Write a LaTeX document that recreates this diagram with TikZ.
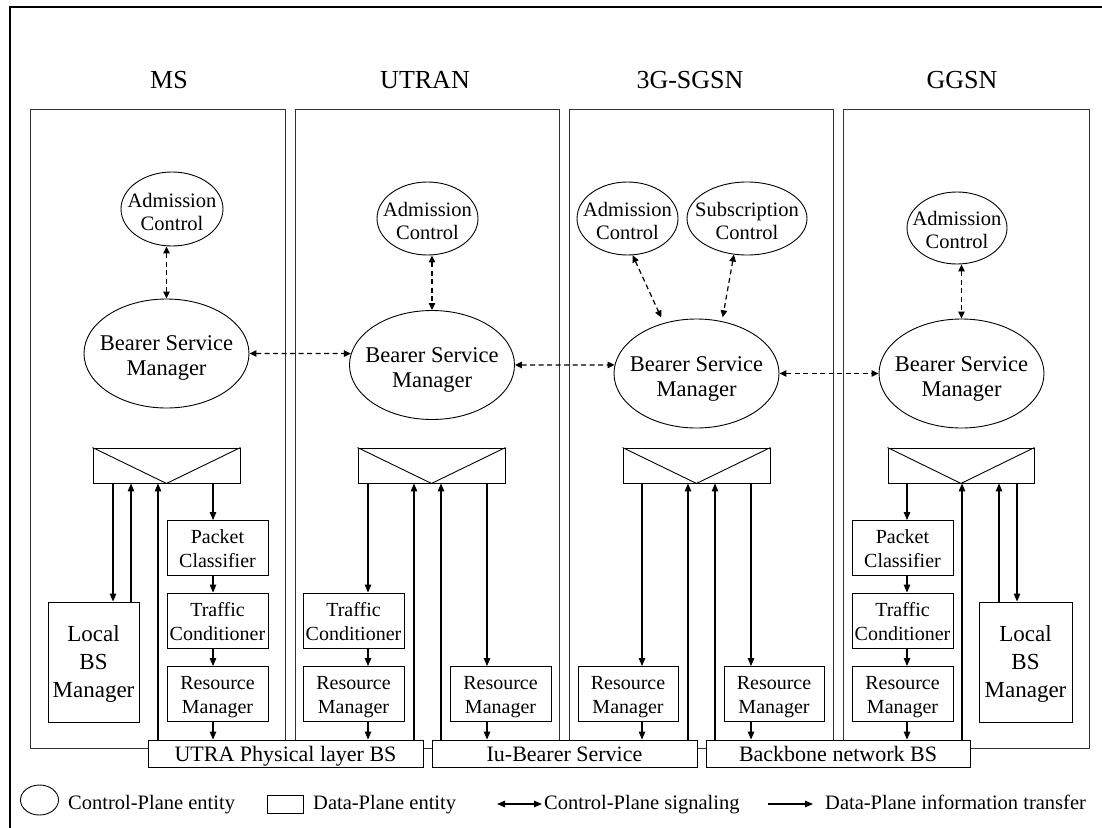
\documentclass[tikz,border=0pt]{standalone}
\usepackage{fontspec}
\setmainfont{Liberation Serif}
\usetikzlibrary{arrows.meta,shapes.geometric}

% centred multi-line label whose last baseline sits #1 pt below the node centre
\newcommand\stack[2]{\makebox[0pt]{\raisebox{-#1pt}[0pt][0pt]{\begin{tabular}[b]{@{}c@{}}#2\end{tabular}}}}

\begin{document}
\begin{tikzpicture}[x=1pt,y=-1pt,
  ctl/.style={draw, ellipse, line width=0.9pt, inner sep=0pt, font=\fontsize{20.5}{23}\selectfont},
  bsm/.style={ctl, minimum width=165pt, minimum height=109pt, font=\fontsize{22.5}{25}\selectfont},
  dbox/.style={draw, rectangle, line width=0.9pt, inner sep=0pt, minimum width=101pt, minimum height=55pt, font=\fontsize{20}{24}\selectfont},
  lbm/.style={dbox, minimum width=91pt, minimum height=120pt, font=\fontsize{23}{28}\selectfont},
  sw/.style={draw, rectangle, line width=0.9pt, inner sep=0pt, minimum width=147pt, minimum height=35pt},
  col/.style={draw=black!80, rectangle, line width=0.9pt, inner sep=0pt, minimum height=639pt},
  bar/.style={draw, fill=white, rectangle, line width=0.9pt, inner sep=0pt, minimum height=27pt, text height=16pt, text depth=0pt, font=\fontsize{22}{26}\selectfont},
  title/.style={anchor=base, inner sep=0pt, font=\fontsize{26}{30}\selectfont},
  lgtext/.style={anchor=base west, inner sep=0pt, font=\fontsize{20.5}{24}\selectfont},
  cp/.style={line width=1.2pt, dash pattern=on 5pt off 3.5pt, >={Triangle[length=7pt,width=6.5pt]}, <->},
  dp/.style={line width=1.1pt, >={Triangle[length=8pt,width=6.5pt]}, ->},
  vee/.style={line width=0.9pt},
]
\useasboundingbox (0,0) rectangle (1102,827);
\clip (0,0) rectangle (1102,827);

% outer frame
\draw[line width=2.2pt] (10,835) -- (10,7) -- (1110,7);

% network element columns
\node[col, minimum width=255pt] (mscol) at (157.5,428.5) {};
\node[col, minimum width=264pt] (utcol) at (427,428.5) {};
\node[col, minimum width=264pt] (sgcol) at (701,428.5) {};
\node[col, minimum width=246pt] (ggcol) at (966,428.5) {};

\node[title] (mstitle) at (169,88) {MS};
\node[title] (uttitle) at (425,88) {UTRAN};
\node[title] (sgtitle) at (690,88) {3G-SGSN};
\node[title] (ggtitle) at (962,88) {GGSN};

% bearer services along the bottom
\node[bar, minimum width=275pt] (bar1) at (285.5,753.5) {UTRA Physical layer BS};
\node[bar, minimum width=265pt] (bar2) at (564.5,753.5) {Iu-Bearer Service};
\node[bar, minimum width=264pt] (bar3) at (838,753.5) {Backbone network BS};

% ---------- MS ----------
\node[ctl, minimum width=102pt, minimum height=74pt] (msac) at (172,209) {\stack{21}{Admission\\Control}};
\node[bsm] (msbsm) at (166.5,353.5) {\stack{22}{Bearer Service\\Manager}};
\node[sw] (mssw) at (166.5,465.5) {};
\draw[vee] (mssw.north west) -- (mssw.south) -- (mssw.north east);
\node[lbm] (mslbm) at (93.5,662) {\stack{35}{Local\\BS\\Manager}};
\node[dbox] (mspc) at (217.5,548) {\stack{19}{Packet\\Classifier}};
\node[dbox] (mstc) at (217.5,620.5) {\stack{20}{Traffic\\Conditioner}};
\node[dbox] (msrm) at (217.5,694) {\stack{19.5}{Resource\\Manager}};

% ---------- UTRAN ----------
\node[ctl, minimum width=101pt, minimum height=73pt] (utac) at (427.5,218.5) {\stack{20.5}{Admission\\Control}};
\node[bsm] (utbsm) at (432,365) {\stack{22.5}{Bearer Service\\Manager}};
\node[sw] (utsw) at (431.5,465.5) {};
\draw[vee] (utsw.north west) -- (utsw.south) -- (utsw.north east);
\node[dbox] (uttc) at (353.5,620.5) {\stack{20}{Traffic\\Conditioner}};
\node[dbox] (utrma) at (353.5,694) {\stack{19.5}{Resource\\Manager}};
\node[dbox] (utrmb) at (500.5,694) {\stack{19.5}{Resource\\Manager}};

% ---------- 3G-SGSN ----------
\node[ctl, minimum width=101pt, minimum height=73pt] (sgac) at (627.5,218.5) {\stack{20.5}{Admission\\Control}};
\node[ctl, minimum width=120pt, minimum height=73pt] (sgsc) at (747,218.5) {\stack{20.5}{Subscription\\Control}};
\node[bsm] (sgbsm) at (696.5,373.5) {\stack{22.5}{Bearer Service\\Manager}};
\node[sw] (sgsw) at (696.5,465.5) {};
\draw[vee] (sgsw.north west) -- (sgsw.south) -- (sgsw.north east);
\node[dbox, minimum width=100pt] (sgrma) at (628,694) {\stack{19.5}{Resource\\Manager}};
\node[dbox, minimum width=100pt] (sgrmb) at (774,694) {\stack{19.5}{Resource\\Manager}};

% ---------- GGSN ----------
\node[ctl, minimum width=100pt, minimum height=72pt] (ggac) at (957,228) {\stack{20}{Admission\\Control}};
\node[bsm] (ggbsm) at (961.5,373.5) {\stack{22.5}{Bearer Service\\Manager}};
\node[sw, minimum width=146pt] (ggsw) at (961,465.5) {};
\draw[vee] (ggsw.north west) -- (ggsw.south) -- (ggsw.north east);
\node[dbox] (ggpc) at (902.5,548) {\stack{19}{Packet\\Classifier}};
\node[dbox] (ggtc) at (902.5,620.5) {\stack{20}{Traffic\\Conditioner}};
\node[dbox] (ggrm) at (902.5,694) {\stack{19.5}{Resource\\Manager}};
\node[lbm, minimum width=93pt] (gglbm) at (1025.5,662) {\stack{35}{Local\\BS\\Manager}};

% ---------- control-plane signalling ----------
\draw[cp] (msac.south -| msbsm.north) -- (msbsm.north);
\draw[cp] (utac.south -| utbsm.north) -- (utbsm.north);
\draw[cp, shorten >=6pt] (sgac.278) -- (sgbsm.123);
\draw[cp, shorten >=4pt] (sgsc.250) -- (sgbsm.64);
\draw[cp] (ggac.south -| ggbsm.north) -- (ggbsm.north);
\draw[cp] (msbsm.east) -- (utbsm.172);
\draw[cp] (utbsm.east) -- (sgbsm.174);
\draw[cp] (sgbsm.east) -- (ggbsm.west);

% ---------- data-plane transfer ----------
% MS
\draw[dp] (mssw.south -| 113,0) -- (mslbm.north -| 113,0);
\draw[dp] (mslbm.north -| 131,0) -- (mssw.south -| 131,0);
\draw[dp] (bar1.north -| 158,0) -- (mssw.south -| 158,0);
\draw[dp] (mssw.south -| 213,0) -- (mspc.north -| 213,0);
\draw[dp] (mspc.south -| 213,0) -- (mstc.north -| 213,0);
\draw[dp] (mstc.south -| 213,0) -- (msrm.north -| 213,0);
\draw[dp] (msrm.south -| 213,0) -- (bar1.north -| 213,0);
% UTRAN
\draw[dp] (utsw.south -| 368,0) -- (uttc.north -| 368,0);
\draw[dp] (uttc.south -| 368,0) -- (utrma.north -| 368,0);
\draw[dp] (utrma.south -| 368,0) -- (bar1.north -| 368,0);
\draw[dp] (bar1.north -| 414,0) -- (utsw.south -| 414,0);
\draw[dp] (bar2.north -| 441,0) -- (utsw.south -| 441,0);
\draw[dp] (utsw.south -| 487,0) -- (utrmb.north -| 487,0);
\draw[dp] (utrmb.south -| 487,0) -- (bar2.north -| 487,0);
% 3G-SGSN
\draw[dp] (sgsw.south -| 642,0) -- (sgrma.north -| 642,0);
\draw[dp] (sgrma.south -| 642,0) -- (bar2.north -| 642,0);
\draw[dp] (bar2.north -| 688,0) -- (sgsw.south -| 688,0);
\draw[dp] (bar3.north -| 715,0) -- (sgsw.south -| 715,0);
\draw[dp] (sgsw.south -| 751,0) -- (sgrmb.north -| 751,0);
\draw[dp] (sgrmb.south -| 751,0) -- (bar3.north -| 751,0);
% GGSN
\draw[dp] (ggsw.south -| 907,0) -- (ggpc.north -| 907,0);
\draw[dp] (ggpc.south -| 907,0) -- (ggtc.north -| 907,0);
\draw[dp] (ggtc.south -| 907,0) -- (ggrm.north -| 907,0);
\draw[dp] (ggrm.south -| 907,0) -- (bar3.north -| 907,0);
\draw[dp] (bar3.north -| 962,0) -- (ggsw.south -| 962,0);
\draw[dp] (gglbm.north -| 999,0) -- (ggsw.south -| 999,0);
\draw[dp] (ggsw.south -| 1017,0) -- (gglbm.north -| 1017,0);

% ---------- legend ----------
\node[draw, ellipse, line width=0.9pt, inner sep=0pt, minimum width=38pt, minimum height=30pt] (lgell) at (39.5,800) {};
\node[lgtext] (lgellt) at (68,809) {Control-Plane entity};
\node[draw, rectangle, line width=0.9pt, inner sep=0pt, minimum width=36pt, minimum height=18pt] (lgbox) at (285,804) {};
\node[lgtext] (lgboxt) at (313,809) {Data-Plane entity};
\coordinate (lgca) at (497,804);
\coordinate (lgcb) at (542,804);
\draw[line width=1.1pt, >={Triangle[length=8pt,width=6.5pt]}, <->] (lgca) -- (lgcb);
\node[lgtext] (lgct) at (544,809) {Control-Plane signaling};
\coordinate (lgda) at (768,804);
\coordinate (lgdb) at (813,804);
\draw[dp] (lgda) -- (lgdb);
\node[lgtext] (lgdt) at (825,809) {Data-Plane information transfer};
\end{tikzpicture}
\end{document}
